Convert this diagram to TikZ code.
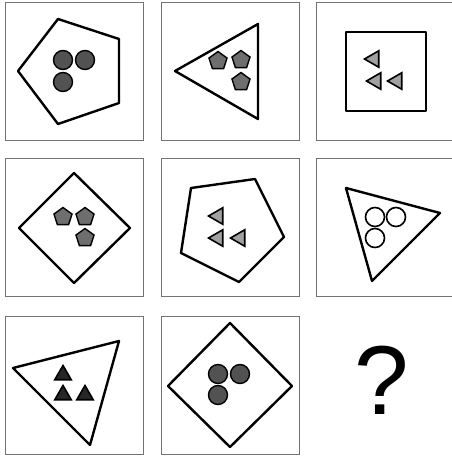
\documentclass[tikz,border=0pt]{standalone}
\usepackage{fontspec}
\setsansfont{Liberation Sans}
\usepackage{tikz}
\usetikzlibrary{shapes.geometric}

\begin{document}
\begin{tikzpicture}[x=1pt, y=-1pt,
  cell/.style={draw=black!55, line width=0.9pt},
  outline/.style={draw=black, line width=2.4pt, line join=round},
  dot/.style={circle, draw=black, line width=1.4pt, fill=black!68,
              minimum size=19pt, inner sep=0pt},
  ring/.style={dot, fill=white, line width=1.6pt},
  penta/.style={regular polygon, regular polygon sides=5, draw=black,
                line width=1.4pt, fill=black!57, minimum size=19pt, inner sep=0pt},
  tri/.style={regular polygon, regular polygon sides=3, draw=black,
              line width=1.6pt, fill=black!37, minimum size=19pt, inner sep=0pt}]
\useasboundingbox (0,0) rectangle (452,456);
% --- cell frames ---
\foreach \x/\y in {5/2, 161/2, 316/2, 5/158, 161/158, 316/158, 5/316, 161/316}
  \draw[cell] (\x,\y) rectangle ++(138,138);
% --- row 1 ---
\draw[outline] (58,19) -- (119,39) -- (119,103) -- (58,124) -- (18,71) -- cycle;
\foreach \n/\p in {a/{(63,60)}, b/{(85,60)}, c/{(63,82)}}
  \node[dot] (r1c1\n) at \p {};
\draw[outline] (175,71) -- (258,24) -- (258,119) -- cycle;
\foreach \n/\p in {a/{(218,61)}, b/{(241,60)}, c/{(241,82)}}
  \node[penta] (r1c2\n) at \p {};
\draw[outline] (346,32) rectangle (426,111);
\foreach \n/\p in {a/{(374,59)}, b/{(376,81)}, c/{(397,81)}}
  \node[tri, shape border rotate=90] (r1c3\n) at \p {};
% --- row 2 ---
\draw[outline] (74,173) -- (130,228) -- (74,283) -- (19,228) -- cycle;
\foreach \n/\p in {a/{(63,217)}, b/{(85,217)}, c/{(85,238)}}
  \node[penta] (r2c1\n) at \p {};
\draw[outline] (191,188) -- (255,179) -- (284,237) -- (239,282) -- (181,253) -- cycle;
\foreach \n/\p in {a/{(218,216)}, b/{(218,238)}, c/{(240,238)}}
  \node[tri, shape border rotate=90] (r2c2\n) at \p {};
\draw[outline] (346,188) -- (440,213) -- (372,281) -- cycle;
\foreach \n/\p in {a/{(375,217)}, b/{(396,217)}, c/{(375,238)}}
  \node[ring] (r2c3\n) at \p {};
% --- row 3 ---
\draw[outline] (13,368) -- (119,341) -- (90,445) -- cycle;
\foreach \n/\p in {a/{(63,375)}, b/{(63,395)}, c/{(85,395)}}
  \node[tri, fill=black!85] (r3c1\n) at \p {};
\draw[outline] (230,323) -- (292,386) -- (230,447) -- (168,386) -- cycle;
\foreach \n/\p in {a/{(218,374)}, b/{(240,374)}, c/{(218,395)}}
  \node[dot] (r3c2\n) at \p {};
\node[font=\sffamily\fontsize{98}{98}\selectfont, inner sep=0pt] (ask) at (382,380) {?};
\end{tikzpicture}
\end{document}
